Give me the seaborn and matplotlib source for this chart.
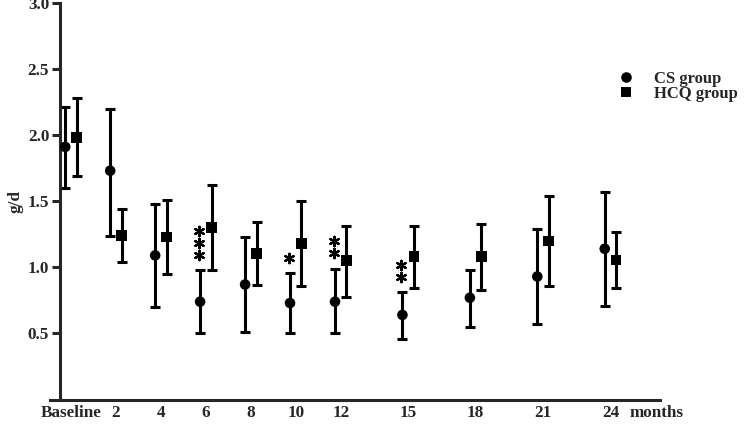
import numpy as np
import pandas as pd
import matplotlib
matplotlib.use("Agg")
import matplotlib.pyplot as plt
import seaborn as sns

# ---- data ----
timepoints = ['Baseline', '2', '4', '6', '8', '10', '12', '15', '18', '21', '24']
months = [0, 2, 4, 6, 8, 10, 12, 15, 18, 21, 24]

cs_mean = [1.91, 1.73, 1.09, 0.74, 0.87, 0.73, 0.74, 0.64, 0.77, 0.93, 1.14]
cs_upper = [2.21, 2.20, 1.48, 0.98, 1.23, 0.955, 0.99, 0.81, 0.98, 1.29, 1.57]
cs_lower = [1.60, 1.24, 0.70, 0.50, 0.51, 0.50, 0.50, 0.46, 0.55, 0.57, 0.71]

hcq_mean = [1.98, 1.24, 1.23, 1.30, 1.105, 1.18, 1.05, 1.08, 1.08, 1.20, 1.055]
hcq_upper = [2.28, 1.44, 1.51, 1.62, 1.345, 1.50, 1.31, 1.31, 1.33, 1.54, 1.27]
hcq_lower = [1.69, 1.04, 0.95, 0.98, 0.865, 0.855, 0.775, 0.845, 0.83, 0.855, 0.84]

significance = ['', '', '', '***', '', '*', '**', '**', '', '', '']

groups = ['CS group', 'HCQ group']
ytick_values = [0.5, 1.0, 1.5, 2.0, 2.5, 3.0]

# ---- styling ----
sns.set_style('ticks')
plt.rcParams['font.family'] = ['Liberation Serif', 'DejaVu Serif']
plt.rcParams['font.weight'] = 'bold'
plt.rcParams['axes.labelweight'] = 'bold'

FS = 12.3
LEG_FS = 12
offset = 0.255

df = pd.concat([
    pd.DataFrame({'month': months, 'x': np.array(months) - offset, 'mean': cs_mean,
                  'upper': cs_upper, 'lower': cs_lower, 'group': groups[0]}),
    pd.DataFrame({'month': months, 'x': np.array(months) + offset, 'mean': hcq_mean,
                  'upper': hcq_upper, 'lower': hcq_lower, 'group': groups[1]}),
], ignore_index=True)

fig = plt.figure(figsize=(7.44, 4.28), dpi=100)
ax = fig.add_axes([0.0673, 0.0664, 0.887 - 0.0673, 0.9937 - 0.0664])

# error bars
for g in groups:
    d = df[df['group'] == g]
    ax.errorbar(d['x'], d['mean'], yerr=[d['mean'] - d['lower'], d['upper'] - d['mean']],
                fmt='none', ecolor='black', elinewidth=2.2, capsize=3.6, capthick=2.2, zorder=2)

sns.scatterplot(data=df, x='x', y='mean', style='group', hue='group',
                palette={groups[0]: 'black', groups[1]: 'black'},
                markers={groups[0]: 'o', groups[1]: 's'}, s=58, linewidth=0,
                ax=ax, zorder=3)

# significance asterisks above CS upper bars
star_x, star_y = [], []
for m, hi, sig in zip(months, cs_upper, significance):
    for k in range(len(sig)):
        star_x.append(m - offset - 0.05)
        star_y.append(hi + 0.115 + 0.09 * k)
ax.scatter(star_x, star_y, marker=(6, 2, 0), s=46, color='black', linewidths=1.6, zorder=3)

# axes
ax.set_xlim(-0.93, 26.2)
ax.set_ylim(0, 3.0)
ax.spines['top'].set_visible(False)
ax.spines['right'].set_visible(False)
ax.spines['left'].set_position(('data', -0.49))
ax.spines['left'].set_linewidth(2.2)
ax.spines['bottom'].set_linewidth(2.2)

ax.set_yticks(ytick_values)
ax.set_yticklabels([f'{v:.1f}' for v in ytick_values], fontsize=FS, fontweight='bold')
ax.tick_params(axis='y', length=5.8, width=2.2, pad=2)
ax.set_xticks(months)
ax.set_xticklabels(timepoints, fontsize=FS, fontweight='bold')
ax.tick_params(axis='x', length=0, pad=4)

ax.set_xlabel('')
ax.set_ylabel('g/d', fontsize=FS, fontweight='bold', labelpad=3)

ax.annotate('months', xy=(26.07, 0), xycoords=('data', 'axes fraction'),
            xytext=(0, -4), textcoords='offset points', ha='center', va='top',
            fontsize=FS, fontweight='bold', annotation_clip=False)

leg = ax.legend(frameon=False, loc='upper left', bbox_to_anchor=(0.799, 0.869),
                bbox_transform=fig.transFigure, fontsize=LEG_FS, labelspacing=-0.08,
                handletextpad=0.7, borderpad=0.4, handlelength=2.0)
for t in leg.get_texts():
    t.set_fontweight('bold')

fig.savefig('out.png', dpi=100)
